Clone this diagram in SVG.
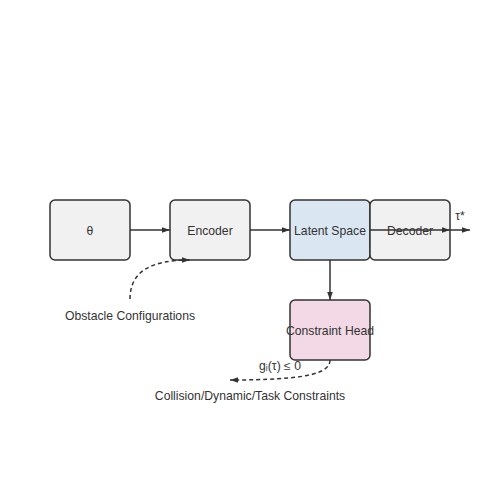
<svg xmlns="http://www.w3.org/2000/svg" width="500" height="500" viewBox="0 0 500 500">
<style>
.node rect{stroke:#333;stroke-width:1.5}
.lbl{font-family:"Liberation Sans",Arial,sans-serif;font-size:12.2px;fill:#333;text-anchor:middle}
.edge{fill:none;stroke:#333;stroke-width:1.5}
.dash{stroke-dasharray:4,3}
</style>
<defs>
<marker id="ah" viewBox="0 0 10 10" refX="10" refY="5" markerWidth="8" markerHeight="8" markerUnits="userSpaceOnUse" orient="auto">
<path d="M0,1.5 L10,5 L0,8.5 Z" fill="#333"/>
</marker>
</defs>
<rect width="500" height="500" fill="#fff"/>
<g id="theta" class="node"><rect x="50" y="200" width="80" height="60" rx="5" fill="#f1f1f1"/><text class="lbl" x="90" y="235">θ</text></g>
<g id="encoder" class="node"><rect x="170" y="200" width="80" height="60" rx="5" fill="#f1f1f1"/><text class="lbl" x="210" y="235">Encoder</text></g>
<g id="latent" class="node"><rect x="290" y="200" width="80" height="60" rx="5" fill="#dae6f1"/><text class="lbl" x="330" y="235">Latent Space</text></g>
<g id="decoder" class="node"><rect x="370" y="200" width="80" height="60" rx="5" fill="#f1f1f1"/><text class="lbl" x="410" y="235">Decoder</text></g>
<g id="constraint" class="node"><rect x="290" y="300" width="80" height="60" rx="5" fill="#f2d9e5"/><text class="lbl" x="330" y="335">Constraint Head</text></g>
<g id="connectors">
<path class="edge" d="M130,230 L170,230" marker-end="url(#ah)"/>
<path class="edge" d="M250,230 L290,230" marker-end="url(#ah)"/>
<path class="edge" d="M370,230 L450,230" marker-end="url(#ah)"/>
<path class="edge" d="M450,230 L470,230" marker-end="url(#ah)"/>
<path class="edge" d="M330,260 L330,300" marker-end="url(#ah)"/>
<path class="edge dash" d="M130,299 C130,272 150,260 190,260" marker-end="url(#ah)"/>
<path class="edge dash" d="M330,360 C330,374 305,380 230,380" marker-end="url(#ah)"/>
</g>
<text class="lbl" x="460" y="220">τ*</text>
<text class="lbl" x="130" y="320">Obstacle Configurations</text>
<text class="lbl" x="280" y="370">gᵢ(τ) ≤ 0</text>
<text class="lbl" x="250" y="400">Collision/Dynamic/Task Constraints</text>
</svg>
